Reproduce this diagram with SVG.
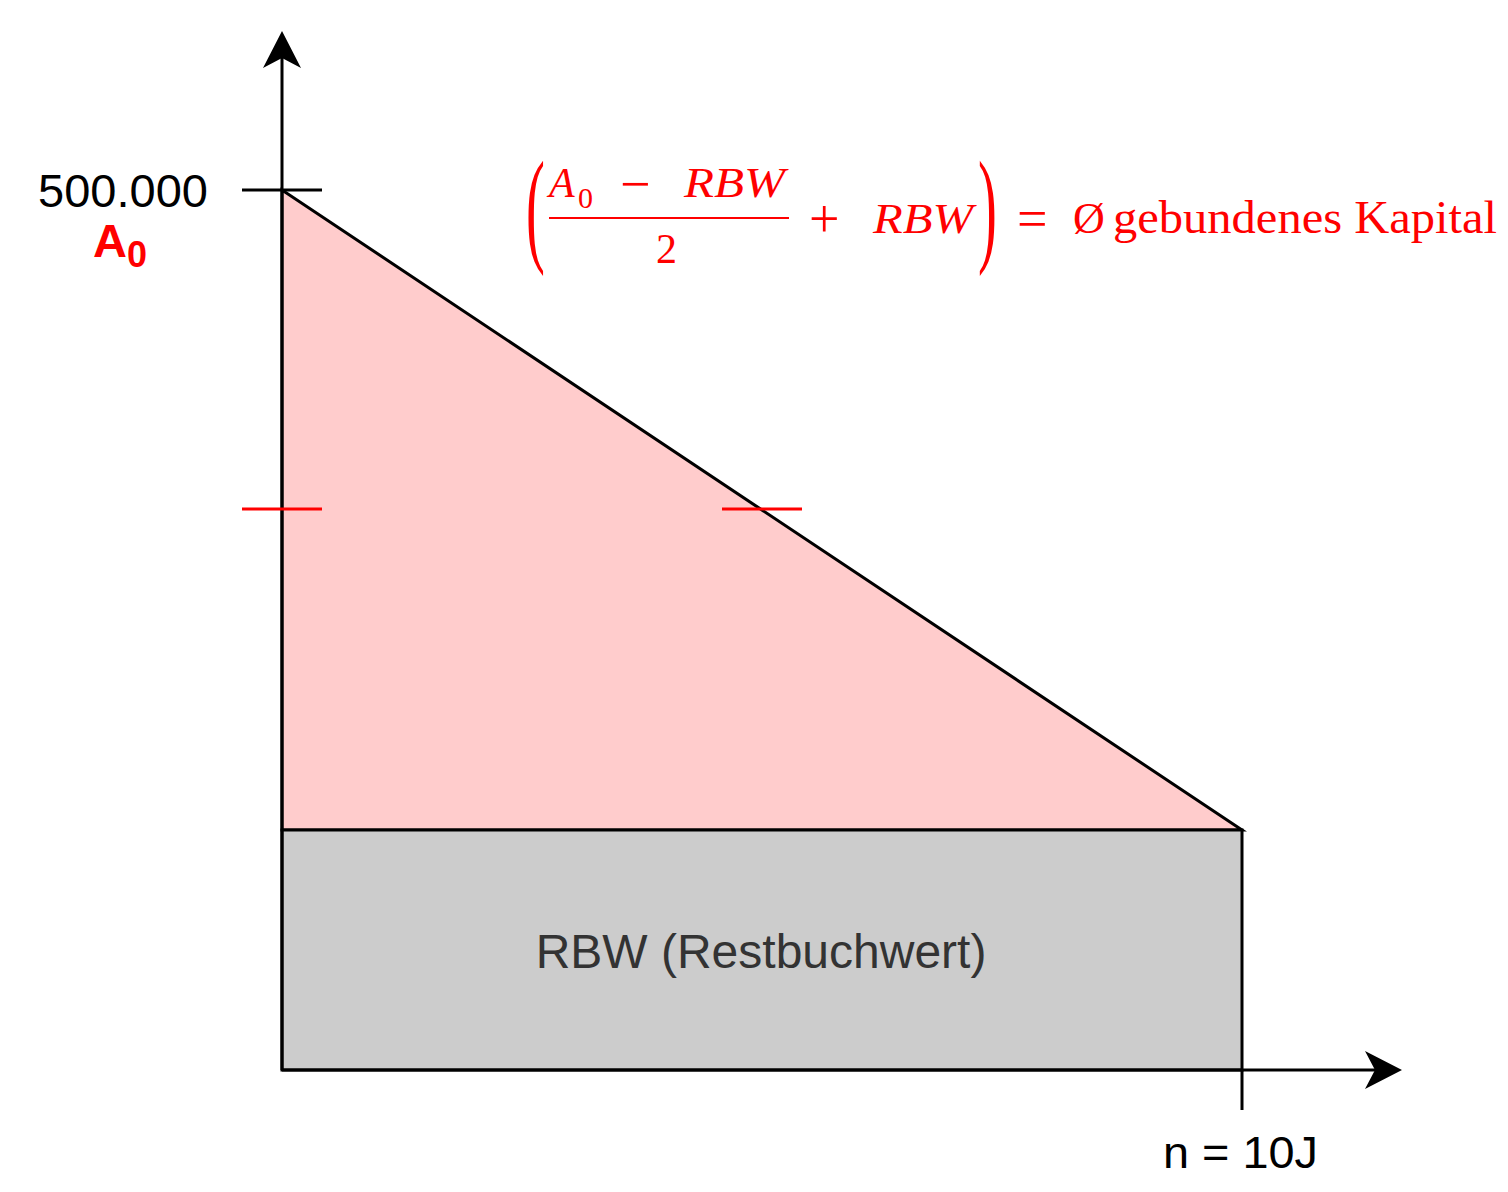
<svg xmlns="http://www.w3.org/2000/svg" width="1508" height="1192" viewBox="0 0 1508 1192">
<style>
.ax{stroke:#000;stroke-width:3;fill:none}
.tk{stroke:#000;stroke-width:3}
.rt{stroke:#FF0000;stroke-width:3}
.lbl{font-family:"Liberation Sans",Arial,sans-serif;fill:#000}
.m{font-family:"Liberation Serif","Times New Roman",serif;fill:#FF0000}
.mi{font-style:italic}
</style>
<defs>
<marker id="arr" viewBox="0 0 37 38" markerWidth="37" markerHeight="38" refX="10" refY="19" orient="auto" markerUnits="userSpaceOnUse">
<path d="M0,0 L37,19 L0,38 L10,19 Z" fill="#000"/>
</marker>
</defs>
<rect width="1508" height="1192" fill="#fff"/>
<g id="triangle">
<polygon points="282,190 282,830 1242,830" fill="#FFCCCC" stroke="#000" stroke-width="3" stroke-linejoin="miter"/>
</g>
<g id="rbw">
<rect x="282" y="830" width="960" height="240" fill="#CCCCCC" stroke="#000" stroke-width="3"/>
<text x="761" y="968" text-anchor="middle" font-family="Liberation Sans,Arial,sans-serif" font-size="48" fill="#333333">RBW (Restbuchwert)</text>
</g>
<g id="connectors">
<line class="ax" x1="282" y1="1070" x2="282" y2="58" marker-end="url(#arr)"/>
<line class="ax" x1="282" y1="1070" x2="1375" y2="1070" marker-end="url(#arr)"/>
<line class="tk" x1="242" y1="190" x2="322" y2="190"/>
<line class="tk" x1="1242" y1="1070" x2="1242" y2="1110"/>
<line class="rt" x1="242" y1="509" x2="322" y2="509"/>
<line class="rt" x1="722" y1="509" x2="802" y2="509"/>
</g>
<g id="label-500">
<text class="lbl" x="208" y="207" text-anchor="end" font-size="47">500.000</text>
</g>
<g id="label-a0">
<text x="93" y="257" font-family="Liberation Sans,Arial,sans-serif" font-weight="bold" font-size="47" fill="#FF0000">A<tspan font-size="36" dy="10">0</tspan></text>
</g>
<g id="label-n">
<text class="lbl" x="1163" y="1168" font-size="44" textLength="155" lengthAdjust="spacingAndGlyphs">n = 10J</text>
</g>
<g id="formula">
<text class="m" x="0" y="0" font-size="126" transform="translate(526,249) scale(0.45,1)">(</text>
<text class="m mi" x="549" y="197" font-size="42">A</text>
<text class="m" x="578" y="208" font-size="30">0</text>
<text class="m" x="620" y="202" font-size="54">−</text>
<text class="m mi" x="684" y="197" font-size="42" textLength="101" lengthAdjust="spacingAndGlyphs">RBW</text>
<line x1="549" y1="218" x2="789" y2="218" stroke="#FF0000" stroke-width="2"/>
<text class="m" x="656" y="263" font-size="42">2</text>
<text class="m" x="809" y="237" font-size="54">+</text>
<text class="m mi" x="873" y="233" font-size="42" textLength="100" lengthAdjust="spacingAndGlyphs">RBW</text>
<text class="m" x="0" y="0" font-size="126" transform="translate(978,249) scale(0.45,1)">)</text>
<text class="m" x="1017" y="237" font-size="54">=</text>
<text class="m" x="1073" y="233" font-size="44">Ø</text>
<text class="m" x="1113" y="233" font-size="46" textLength="384" lengthAdjust="spacingAndGlyphs">gebundenes Kapital</text>
</g>
</svg>
